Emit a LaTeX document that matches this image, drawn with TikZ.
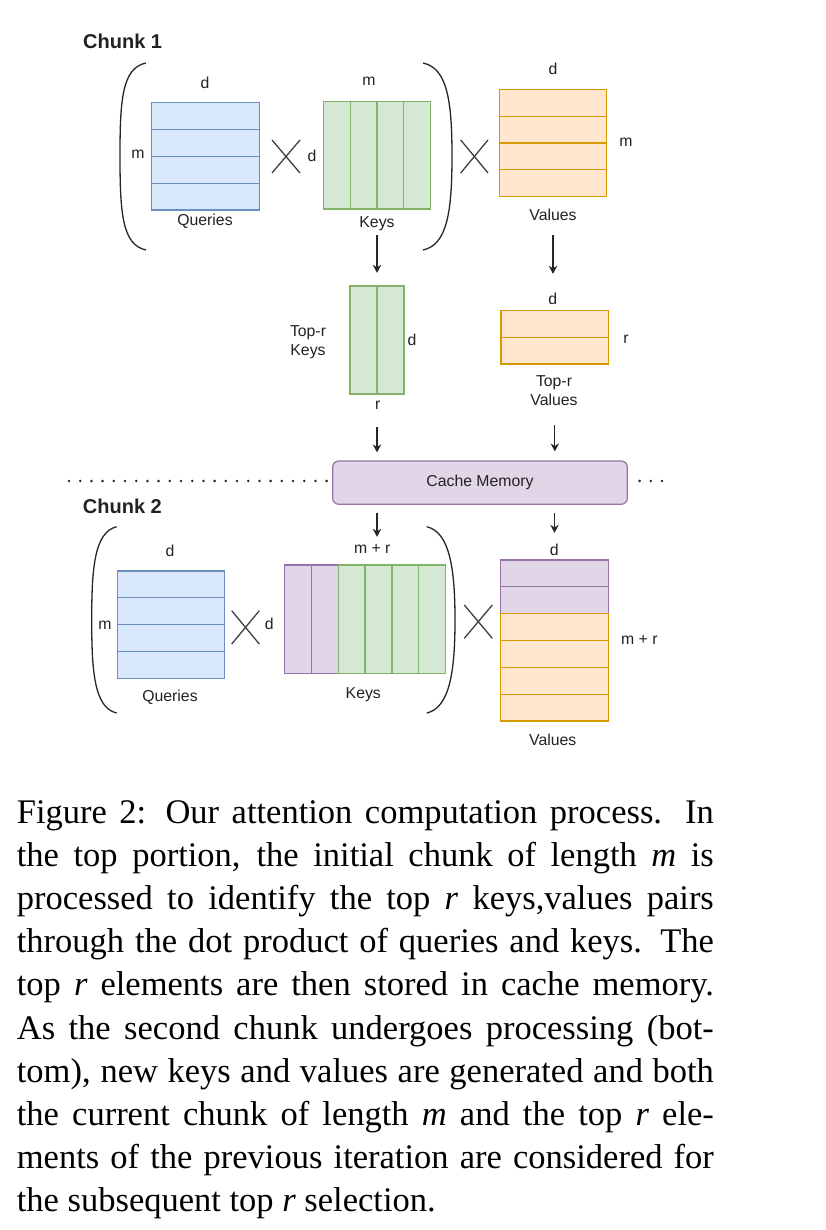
\documentclass[tikz,border=0pt]{standalone}
\usepackage{fontspec}
\setmainfont{Liberation Serif}
\newfontfamily\labfont{Liberation Sans}
\usetikzlibrary{arrows.meta}
\definecolor{bfill}{HTML}{DAE8FC}\definecolor{bdraw}{HTML}{6C8EBF}
\definecolor{gfill}{HTML}{D5E8D4}\definecolor{gdraw}{HTML}{82B366}
\definecolor{ofill}{HTML}{FFE6CC}\definecolor{odraw}{HTML}{D79B00}
\definecolor{pfill}{HTML}{E1D5E7}\definecolor{pdraw}{HTML}{9673A6}
\definecolor{txt}{HTML}{222222}
\newcommand\matrows[6]{%
  \foreach \ii in {1,...,#5}{%
    \draw[#6] (#1,{#2+(\ii-1)*(#4-#2)/#5}) rectangle (#3,{#2+\ii*(#4-#2)/#5});
  }}
\newcommand\matcols[6]{%
  \foreach \ii in {1,...,#5}{%
    \draw[#6] ({#1+(\ii-1)*(#3-#1)/#5},#2) rectangle ({#1+\ii*(#3-#1)/#5},#4);
  }}
\begin{document}
\begin{tikzpicture}[x=1pt,y=-1pt,
  lab/.style={font=\labfont\fontsize{15.8}{18}\selectfont, text=txt, inner sep=0pt, anchor=base},
  chunk/.style={font=\labfont\bfseries\fontsize{20}{24}\selectfont, text=txt, inner sep=0pt, anchor=base west},
  bcell/.style={fill=bfill, draw=bdraw, line width=1.2pt},
  gcell/.style={fill=gfill, draw=gdraw, line width=1.2pt},
  ocell/.style={fill=ofill, draw=odraw, line width=1.2pt},
  pcell/.style={fill=pfill, draw=pdraw, line width=1.2pt},
  frame/.style={inner sep=0pt, draw=none},
  arr/.style={draw=black!85, line width=1.2pt, -{Stealth[length=8pt,width=8.5pt]}},
  paren/.style={draw=black!85, line width=1.3pt},
  times/.style={draw=black!75, line width=1.3pt},
  dots/.style={draw=black!85, line width=2.8pt, line cap=round, dash pattern=on 0pt off 11.2pt},
]
\fill[white] (0,0) rectangle (826,1230);
\useasboundingbox (0,0) rectangle (826,1230);

% ---------- Chunk 1 ----------
\node[chunk] (c1) at (83,48.5) {Chunk 1};
\draw[paren] (146,63) .. controls (122,68) and (120,100) .. (120,156) .. controls (120,212) and (122,245) .. (146,250);
\draw[paren] (423,63) .. controls (447,68) and (452,100) .. (452,156) .. controls (452,212) and (447,245) .. (423,250);

\matrows{151.7}{102.7}{259.3}{210}{4}{bcell}
\node[frame, minimum width=107.6pt, minimum height=107.3pt] (q1) at (205.5,156.35) {};
\matcols{323.3}{101.7}{430.7}{209}{4}{gcell}
\node[frame, minimum width=107.4pt, minimum height=107.3pt] (k1) at (377,155.35) {};
\matrows{499.3}{89.3}{606.7}{196.7}{4}{ocell}
\node[frame, minimum width=107.4pt, minimum height=107.4pt] (v1) at (553,143) {};

\draw[times] (272,140) -- (300,173) (272,173) -- (300,140);
\draw[times] (460.7,140) -- (488,173) (460.7,173) -- (488,140);

\node[lab] (q1d) at (205,88.2) {d};
\node[lab] (q1m) at (138,159) {m};
\node[lab] (q1l) at (205,226) {Queries};
\node[lab] (k1d) at (312,162) {d};
\node[lab] (k1m) at (369,86) {m};
\node[lab] (k1l) at (377,227.5) {Keys};
\node[lab] (v1d) at (553,74.5) {d};
\node[lab] (v1m) at (626,147) {m};
\node[lab] (v1l) at (553,221) {Values};

% ---------- Top-r ----------
\matcols{350}{286}{404}{394}{2}{gcell}
\node[frame, minimum width=54pt, minimum height=108pt] (tk) at (377,340) {};
\matrows{501}{310.3}{608.7}{364}{2}{ocell}
\node[frame, minimum width=107.7pt, minimum height=53.7pt] (tv) at (554.85,337.15) {};

\node[lab] (tkl1) at (308,336.5) {Top-r};
\node[lab] (tkl2) at (308,355.5) {Keys};
\node[lab] (tkd) at (412,345.5) {d};
\node[lab] (tkr) at (377.7,409) {r};
\node[lab] (tvd) at (552.7,304.5) {d};
\node[lab] (tvr) at (626,343) {r};
\node[lab] (tvl1) at (554,386) {Top-r};
\node[lab] (tvl2) at (554,405.5) {Values};

% ---------- Cache ----------
\coordinate (dl) at (69,481);
\coordinate (dr) at (662,481);
\draw[dots] (dl) -- (330,481);
\draw[dots] (dr) -- (634,481);
\node[draw=pdraw, fill=pfill, line width=1.2pt, rounded corners=6pt, minimum width=294.6pt, minimum height=43.3pt, inner sep=0pt, font=\labfont\fontsize{15.8}{18}\selectfont, text=txt] (cache) at (480,482.65) {Cache Memory};

% ---------- Chunk 2 ----------
\node[chunk] (c2) at (82.7,513.3) {Chunk 2};
\draw[paren] (116.7,526.7) .. controls (94,532) and (91.7,570) .. (91.7,620) .. controls (91.7,670) and (94,708) .. (116.7,713);
\draw[paren] (426.7,526.7) .. controls (450,532) and (455,570) .. (455,620) .. controls (455,670) and (450,708) .. (426.7,713);

\matrows{117.3}{571}{224.3}{678.3}{4}{bcell}
\node[frame, minimum width=107pt, minimum height=107.3pt] (q2) at (170.8,624.65) {};
\matcols{284.3}{565}{338.1}{673.3}{2}{pcell}
\matcols{338.1}{565}{445.7}{673.3}{4}{gcell}
\node[frame, minimum width=161.4pt, minimum height=108.3pt] (k2) at (365,619.15) {};
\matrows{500.7}{560}{608.3}{613.67}{2}{pcell}
\matrows{500.7}{613.67}{608.3}{721}{4}{ocell}
\node[frame, minimum width=107.6pt, minimum height=161pt] (v2) at (554.5,640.5) {};

\draw[times] (231.7,610.7) -- (259.3,644) (231.7,644) -- (259.3,610.7);
\draw[times] (464.3,605) -- (492.3,638.3) (464.3,638.3) -- (492.3,605);

\node[lab] (q2d) at (170,556) {d};
\node[lab] (q2m) at (105,629) {m};
\node[lab] (q2l) at (170,701.5) {Queries};
\node[lab] (k2d) at (269.3,629) {d};
\node[lab] (k2m) at (372.3,553.5) {m + r};
\node[lab] (k2l) at (363.3,698.5) {Keys};
\node[lab] (v2d) at (554.3,555) {d};
\node[lab] (v2m) at (639.3,644) {m + r};
\node[lab] (v2l) at (552.7,745.5) {Values};

% ---------- Arrows ----------
\draw[arr, shorten <=26pt, shorten >=13pt] (k1.south) -- (tk.north);
\draw[arr, shorten <=38.3pt, shorten >=36.3pt] (v1.south) -- (v1.south |- tv.north);
\draw[arr, shorten <=33pt, shorten >=8pt] (tk.south) -- (tk.south |- cache.north);
\draw[arr, shorten <=61pt, shorten >=9pt] (tv.south) -- (tv.south |- cache.north);
\draw[arr, shorten <=7.7pt, shorten >=28pt] (cache.south -| tk.south) -- (tk.south |- k2.north);
\draw[arr, shorten <=8pt, shorten >=27pt] (cache.south -| v2.north) -- (v2.north);

% ---------- Caption ----------
\node[inner sep=0pt, anchor=base west, text=black] (cap) at (16.7,823.3) {\fontsize{34.5}{43.16}\selectfont\vtop{\baselineskip=43.16pt
\hbox to 697pt{Figure 2: Our attention computation process. In}
\hbox to 697pt{the top portion, the initial chunk of length \textit{m} is}
\hbox to 697pt{processed to identify the top \textit{r} keys,values pairs}
\hbox to 697pt{through the dot product of queries and keys. The}
\hbox to 697pt{top \textit{r} elements are then stored in cache memory.}
\hbox to 697pt{As the second chunk undergoes processing (bot-}
\hbox to 697pt{tom), new keys and values are generated and both}
\hbox to 697pt{the current chunk of length \textit{m} and the top \textit{r} ele-}
\hbox to 697pt{ments of the previous iteration are considered for}
\hbox{the subsequent top \textit{r} selection.}}};
\end{tikzpicture}
\end{document}
